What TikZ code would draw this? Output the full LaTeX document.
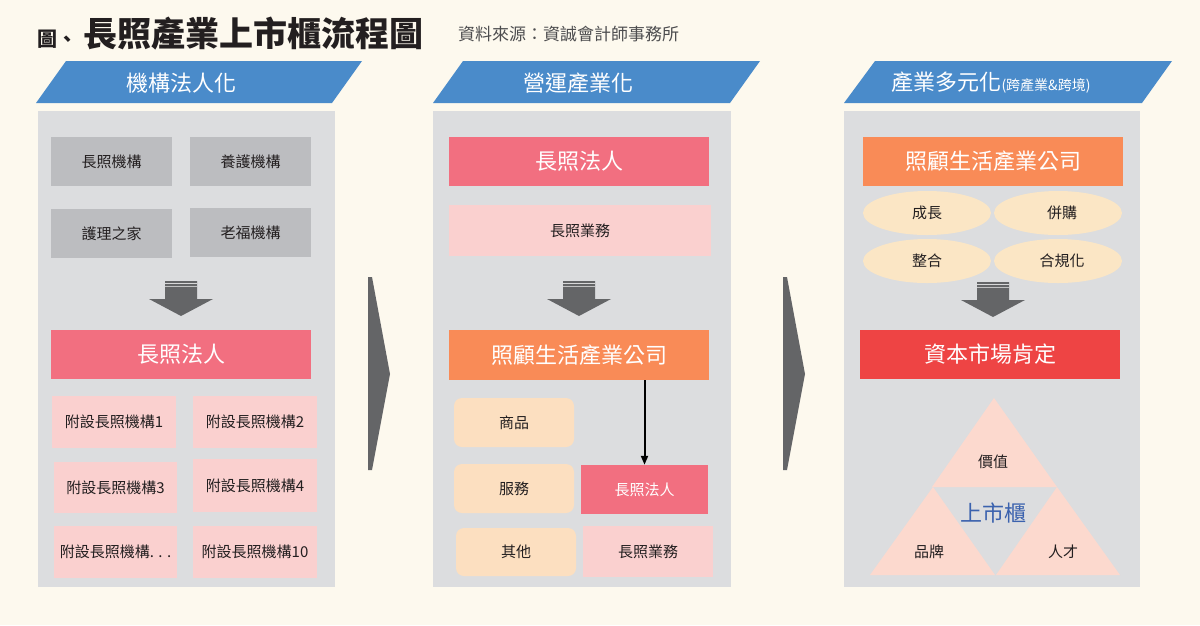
\documentclass[tikz,border=0pt]{standalone}
\usepackage{fontspec}
\setmainfont{Noto Sans CJK TC}
\usetikzlibrary{shapes.geometric,arrows.meta}
\definecolor{bgc}{HTML}{FDF9EE}
\definecolor{panelc}{HTML}{DCDDDF}
\definecolor{grayc}{HTML}{BCBDC0}
\definecolor{bluec}{HTML}{4A8BCA}
\definecolor{rosec}{HTML}{F26F80}
\definecolor{pinkc}{HTML}{FAD0CF}
\definecolor{orangec}{HTML}{F98B57}
\definecolor{peachc}{HTML}{FCDFC0}
\definecolor{ellc}{HTML}{FBE6C5}
\definecolor{redc}{HTML}{EE4444}
\definecolor{tric}{HTML}{FCD9CE}
\definecolor{arrc}{HTML}{646567}
\definecolor{bluetxt}{HTML}{3B62AE}
\definecolor{txtc}{HTML}{231F20}
\definecolor{srcc}{HTML}{4D4D4F}
\newcommand\myfs[1]{\fontsize{#1}{#1}\selectfont}
\tikzset{
  every node/.style={inner sep=0pt, text=txtc, font=\myfs{15}},
  gbox/.style={rectangle, fill=grayc},
  pbox/.style={rectangle, fill=pinkc},
  rbox/.style={rectangle, fill=rosec, text=white},
  obox/.style={rectangle, fill=orangec, text=white, font=\myfs{22}},
  qbox/.style={rectangle, rounded corners=8pt, fill=peachc},
  ebox/.style={ellipse, fill=ellc, minimum width=128pt, minimum height=44pt},
  hdr/.style={text=white, font=\myfs{22}},
  big/.style={font=\myfs{22}},
  pics/dnarr/.style={code={
    \fill[arrc] (-16,0) -- (16,0) -- (16,18) -- (32,18) -- (0,35) -- (-32,18) -- (-16,18) -- cycle;
    \draw[line width=1pt, white!75!arrc] (-16,2.5) -- (16,2.5);
    \draw[line width=1pt, white!60!arrc] (-16,5.5) -- (16,5.5);
  }},
  sidearr/.style={fill=arrc}
}
\begin{document}
\begin{tikzpicture}[x=1pt,y=-1pt]
\useasboundingbox[fill=bgc] (0,0) rectangle (1200,625);

% title
\node[anchor=base west, font=\bfseries] (title) at (37,46) {{\myfs{20}圖、}\hspace{6pt}{\myfs{34}長照產業上市櫃流程圖}};
\node[anchor=base west, text=srcc, font=\myfs{17}] (src) at (458,40) {資料來源：資誠會計師事務所};

% headers
\fill[bluec] (36,103) -- (66,61) -- (362,61) -- (332,103) -- cycle;
\fill[bluec] (433,103) -- (463,61) -- (760,61) -- (730,103) -- cycle;
\fill[bluec] (844,103) -- (875,61) -- (1172,61) -- (1142,103) -- cycle;
\node[hdr] (h1) at (181,83) {機構法人化};
\node[hdr] (h2) at (578,83) {營運產業化};
\node[hdr] (h3) at (991,83) {產業多元化{\myfs{14}(跨產業\&跨境)}};

% panels
\fill[panelc] (38,111) rectangle (335,587);
\fill[panelc] (433,111) rectangle (731,587);
\fill[panelc] (844,111) rectangle (1140,587);

% side arrows
\fill[sidearr] (368,277) -- (372,277) -- (390,374) -- (372,470) -- (368,470) -- cycle;
\fill[sidearr] (783,277) -- (787,277) -- (805,374) -- (787,470) -- (783,470) -- cycle;

% panel 1
\node[gbox, minimum width=121pt, minimum height=49pt] (a1) at (111.5,161.5) {長照機構};
\node[gbox, minimum width=121pt, minimum height=49pt] (a2) at (250.5,161.5) {養護機構};
\node[gbox, minimum width=121pt, minimum height=49pt] (a3) at (111.5,233.5) {護理之家};
\node[gbox, minimum width=121pt, minimum height=49pt] (a4) at (250.5,232.5) {老福機構};
\pic (arr1) at (181,281) {dnarr};
\node[rbox, big, minimum width=260pt, minimum height=49pt] (a5) at (181,354.5) {長照法人};
\node[pbox, minimum width=124pt, minimum height=52pt] (b1) at (114,422) {附設長照機構1};
\node[pbox, minimum width=124pt, minimum height=52pt] (b2) at (255,422) {附設長照機構2};
\node[pbox, minimum width=123pt, minimum height=51pt] (b3) at (115.5,487.5) {附設長照機構3};
\node[pbox, minimum width=124pt, minimum height=53pt] (b4) at (255,485.5) {附設長照機構4};
\node[pbox, minimum width=123pt, minimum height=52pt] (b5) at (115.5,552) {附設長照機構. . .};
\node[pbox, minimum width=124pt, minimum height=52pt] (b6) at (255,552) {附設長照機構10};

% panel 2
\node[rbox, big, minimum width=260pt, minimum height=49pt] (c1) at (579,161.5) {長照法人};
\node[pbox, minimum width=262pt, minimum height=51pt] (c2) at (580,230.5) {長照業務};
\pic (arr2) at (579,281) {dnarr};
\node[obox, minimum width=260pt, minimum height=50pt] (c3) at (579,355) {照顧生活產業公司};
\node[qbox, minimum width=120pt, minimum height=49pt] (c4) at (514,422.5) {商品};
\node[qbox, minimum width=120pt, minimum height=49pt] (c5) at (514,488.5) {服務};
\node[qbox, minimum width=120pt, minimum height=48pt] (c6) at (516,552) {其他};
\node[rbox, minimum width=127pt, minimum height=49pt] (c7) at (644.5,489.5) {長照法人};
\node[pbox, minimum width=130pt, minimum height=51pt] (c8) at (648,551.5) {長照業務};
\draw[line width=2pt, -{Triangle[length=9pt,width=7pt]}] (c3.south -| c7.north) -- (c7.north);

% panel 3
\node[obox, minimum width=260pt, minimum height=49pt] (d1) at (993,161.5) {照顧生活產業公司};
\node[ebox] (e1) at (927,213) {成長};
\node[ebox] (e2) at (1058,213) {\hspace*{8pt}併購};
\node[ebox] (e3) at (927,261) {整合};
\node[ebox] (e4) at (1058,261) {\hspace*{8pt}合規化};
\pic (arr3) at (993,282) {dnarr};
\node[rectangle, fill=redc, text=white, big, minimum width=260pt, minimum height=49pt] (d2) at (990,354.5) {資本市場肯定};

% triangles
\fill[tric] (994,398) -- (1057,487) -- (932,487) -- cycle;
\fill[tric] (933,487) -- (995,575) -- (870,575) -- cycle;
\fill[tric] (1057,487) -- (1120,575) -- (996,575) -- cycle;
\node (t1) at (993,462) {價值};
\node[text=bluetxt, font=\myfs{22}] (t0) at (993,513) {上市櫃};
\node (t2) at (929,552) {品牌};
\node (t3) at (1063,552) {人才};
\end{tikzpicture}
\end{document}
